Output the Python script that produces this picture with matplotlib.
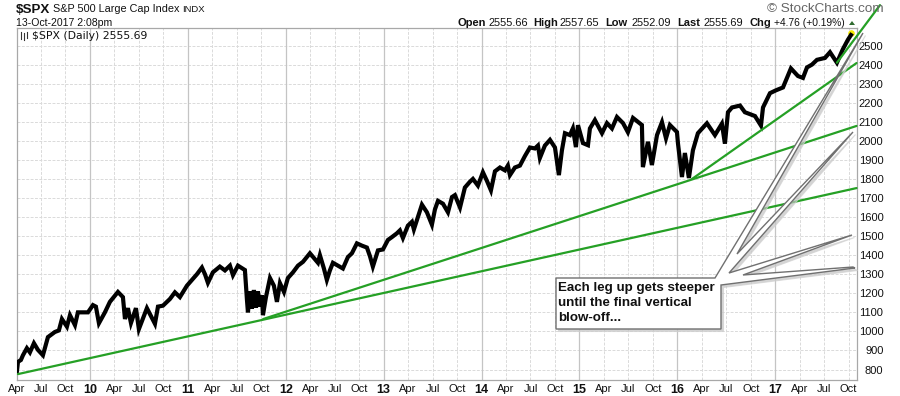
import matplotlib
matplotlib.use('Agg')
import matplotlib.pyplot as plt
from matplotlib.patches import Polygon
from matplotlib.transforms import Affine2D

plt.rcParams['font.family'] = ['Liberation Sans', 'DejaVu Sans']

# S&P 500 (decimal year, index level)
years = [
    2009.254, 2009.265, 2009.295, 2009.316, 2009.356, 2009.387, 2009.428, 2009.469, 2009.52, 2009.571,
    2009.642, 2009.683, 2009.714, 2009.765, 2009.796, 2009.847, 2009.877, 2009.98, 2010.031, 2010.061,
    2010.092, 2010.153, 2010.204, 2010.286, 2010.337, 2010.358, 2010.388, 2010.419, 2010.47, 2010.50,
    2010.582, 2010.664, 2010.695, 2010.746, 2010.817, 2010.868, 2010.919, 2010.991, 2011.042, 2011.093,
    2011.144, 2011.175, 2011.205, 2011.256, 2011.327, 2011.379, 2011.43, 2011.461, 2011.512, 2011.583,
    2011.604, 2011.614, 2011.634, 2011.655, 2011.675, 2011.696, 2011.716, 2011.736, 2011.757, 2011.767,
    2011.798, 2011.839, 2011.879, 2011.91, 2011.941, 2011.982, 2012.022, 2012.074, 2012.125, 2012.176,
    2012.247, 2012.288, 2012.329, 2012.349, 2012.39, 2012.42, 2012.451, 2012.482, 2012.533, 2012.584,
    2012.635, 2012.676, 2012.727, 2012.778, 2012.829, 2012.86, 2012.89, 2012.942, 2012.993, 2013.044,
    2013.085, 2013.136, 2013.166, 2013.197, 2013.248, 2013.289, 2013.309, 2013.35, 2013.391, 2013.442,
    2013.493, 2013.524, 2013.555, 2013.606, 2013.657, 2013.698, 2013.728, 2013.78, 2013.83, 2013.881,
    2013.912, 2013.963, 2014.014, 2014.055, 2014.096, 2014.137, 2014.188, 2014.239, 2014.269, 2014.29,
    2014.341, 2014.392, 2014.443, 2014.494, 2014.545, 2014.576, 2014.596, 2014.647, 2014.699, 2014.75,
    2014.79, 2014.821, 2014.852, 2014.903, 2014.933, 2014.964, 2014.985, 2015.036, 2015.087, 2015.107,
    2015.158, 2015.23, 2015.281, 2015.332, 2015.383, 2015.445, 2015.495, 2015.547, 2015.638, 2015.648,
    2015.70, 2015.74, 2015.792, 2015.843, 2015.884, 2015.924, 2015.996, 2016.006, 2016.047, 2016.077,
    2016.118, 2016.159, 2016.21, 2016.302, 2016.384, 2016.455, 2016.486, 2016.517, 2016.558, 2016.64,
    2016.69, 2016.742, 2016.793, 2016.854, 2016.875, 2016.946, 2017.007, 2017.079, 2017.16, 2017.232,
    2017.283, 2017.324, 2017.375, 2017.426, 2017.508, 2017.559, 2017.63, 2017.69, 2017.742, 2017.773,
]
closes = [
    790, 840, 850, 875, 912, 890, 938, 903, 875, 970,
    997, 1005, 1065, 1025, 1085, 1033, 1100, 1100, 1138, 1130,
    1043, 1100, 1155, 1207, 1180, 1065, 1122, 1044, 1122, 1012,
    1122, 1040, 1130, 1135, 1170, 1205, 1180, 1240, 1270, 1300,
    1335, 1300, 1255, 1310, 1340, 1320, 1345, 1295, 1345, 1322,
    1165, 1100, 1210, 1120, 1217, 1125, 1210, 1130, 1190, 1085,
    1180, 1280, 1240, 1155, 1253, 1207, 1280, 1310, 1345, 1365,
    1410, 1385, 1360, 1400, 1330, 1270, 1320, 1360, 1345, 1330,
    1390, 1410, 1462, 1450, 1440, 1395, 1340, 1425, 1430, 1480,
    1495, 1515, 1530, 1490, 1555, 1575, 1535, 1600, 1665, 1625,
    1560, 1640, 1685, 1670, 1625, 1705, 1715, 1650, 1755, 1785,
    1800, 1765, 1835, 1790, 1740, 1840, 1860, 1845, 1870, 1820,
    1860, 1870, 1920, 1965, 1960, 1975, 1910, 1975, 2005, 1965,
    1820, 1950, 2040, 2030, 2065, 1967, 2082, 1988, 1977, 2065,
    2109, 2040, 2093, 2065, 2125, 2093, 2045, 2120, 2083, 1862,
    1995, 1873, 2030, 2098, 2013, 2083, 2046, 1988, 1810, 1936,
    1805, 1950, 2040, 2092, 2030, 2090, 1985, 2150, 2175, 2185,
    2150, 2140, 2130, 2080, 2175, 2250, 2265, 2280, 2380, 2340,
    2330, 2385, 2400, 2425, 2435, 2465, 2410, 2480, 2530, 2555,
]

# green trendlines, start and end of each
trend_years = [[2009.265, 2017.83], [2011.77, 2017.83], [2016.15, 2017.83], [2017.63, 2018.07]]
trend_values = [[776, 1752], [1065, 2078], [1800, 2408], [2410, 2712]]

price_ticks = list(range(800, 2600, 100))
quarter_labels = ['Apr', 'Jul', 'Oct']
year_labels = ['10', '11', '12', '13', '14', '15', '16', '17']

W, H = 900, 396
fig = plt.figure(figsize=(W / 100, H / 100), dpi=100, facecolor='white')
ax = fig.add_axes([16.5 / W, 1 - 380 / H, (857 - 16.5) / W, (380 - 28) / H])
ax.set_xlim(2009.25, 2017.835)
ax.set_ylim(745, 2592)

# pixel space for the header and the callout
px = Affine2D().scale(1, -1).translate(0, H)


def label(x, y, s, size=8, weight='normal', color='#111111', family=None):
    fig.text(x / W, 1 - y / H, s, fontsize=size, fontweight=weight, color=color,
             ha='left', va='center', family=family or ['Liberation Sans', 'DejaVu Sans'])


# ticks and grid
xticks = []
xlabels = []
for i in range(9):
    for q, name in enumerate(quarter_labels):
        t = 2009 + i + (q + 1) * .25
        if t < 2017.8:
            xticks.append(t)
            xlabels.append(name)
    if i < 8:
        xticks.append(2010 + i)
        xlabels.append(year_labels[i])
order = sorted(range(len(xticks)), key=lambda k: xticks[k])
xticks = [xticks[k] for k in order]
xlabels = [xlabels[k] for k in order]

ax.set_xticks(xticks)
ax.set_xticklabels(xlabels)
for tick, name in zip(ax.get_xticklabels(), xlabels):
    tick.set_fontsize(9 if name.isdigit() else 8)
    tick.set_fontweight('bold' if name.isdigit() else 'normal')
    tick.set_color('#111111')
ax.tick_params(axis='x', length=0, pad=3)

ax.yaxis.tick_right()
ax.set_yticks(price_ticks)
for tick in ax.get_yticklabels():
    tick.set_fontsize(8)
    tick.set_ha('right')
    tick.set_color('#111111')
ax.tick_params(axis='y', length=0, pad=19)

ax.grid(axis='y', color='#dadada', lw=.7, ls=(0, (3, 1.5)))
for t, name in zip(xticks, xlabels):
    if name.isdigit():
        ax.axvline(t, color='#c4c4c4', lw=.9, zorder=1)
    else:
        ax.axvline(t, color='#dadada', lw=.7, ls=(0, (3, 1.5)), zorder=1)
ax.set_axisbelow(True)
for side in ax.spines:
    ax.spines[side].set_color('#a8a8a8')
    ax.spines[side].set_linewidth(.9)

# price
ax.scatter(years[-1], closes[-1] + 12, s=14, color='#f4e900', zorder=2.9, clip_on=False)
ax.plot(years, closes, color='black', lw=3, solid_joinstyle='miter', zorder=3)

# trendlines
for tx, tv in zip(trend_years, trend_values):
    ax.plot(tx, tv, color='#25a025', lw=1.6, zorder=4, clip_on=False, solid_capstyle='round')

# callout balloon
balloon = [(715, 278), (863, 33), (737, 254), (853, 132), (729, 273), (852, 235), (743, 275),
           (853, 267), (855, 268), (721, 285), (721, 329), (556, 329), (556, 278)]
shadow = [(x + 2.5, y + 2.5) for x, y in balloon]
fig.add_artist(Polygon(shadow, closed=True, transform=px, fc='#c4c4c4', ec='#d0d0d0', lw=.8, alpha=.7, zorder=5))
fig.add_artist(Polygon(balloon, closed=True, transform=px, fc='white', ec='#707070', lw=1, zorder=6, joinstyle='miter'))
for y, s in zip([288, 303, 318], ['Each leg up gets steeper', 'until the final vertical', 'blow-off...']):
    fig.text(558.5 / W, 1 - y / H, s, fontsize=9.6, fontweight='bold', color='#111111',
             ha='left', va='center', zorder=7)

# header
label(16, 10, '$SPX', size=9.6, weight='bold')
label(53, 9.5, 'S&P 500 Large Cap Index', size=7.8)
label(182, 10, 'INDX', size=6.8)
label(16, 23, '13-Oct-2017 2:08pm', size=7.6)
label(32, 36, '$SPX (Daily) 2555.69', size=7.8, family='DejaVu Sans')
for x, y0, y1 in [(21, 32, 39), (24, 33, 40), (27, 32, 38)]:
    fig.add_artist(plt.Line2D([x, x], [H - y0, H - y1], transform=None, color='#333333', lw=.8))

for x, s, bold in [(457, 'Open', True), (488, '2555.66', False), (533, 'High', True), (560, '2557.65', False),
                   (605, 'Low', True), (632, '2552.09', False), (677, 'Last', True), (704, '2555.69', False),
                   (749, 'Chg', True)]:
    label(x, 23, s, size=8 if bold else 7.9, weight='bold' if bold else 'normal')
label(774, 23, '+4.76 (+0.19%)', size=7.4)
fig.add_artist(Polygon([(849, 25), (855, 25), (852, 21)], closed=True, transform=px, fc='#2f6b2f', ec='none'))
label(767, 9.5, '\u00a9 StockCharts.com', size=9.7, color='#666666')

fig.savefig('out.png', dpi=100, facecolor='white')
